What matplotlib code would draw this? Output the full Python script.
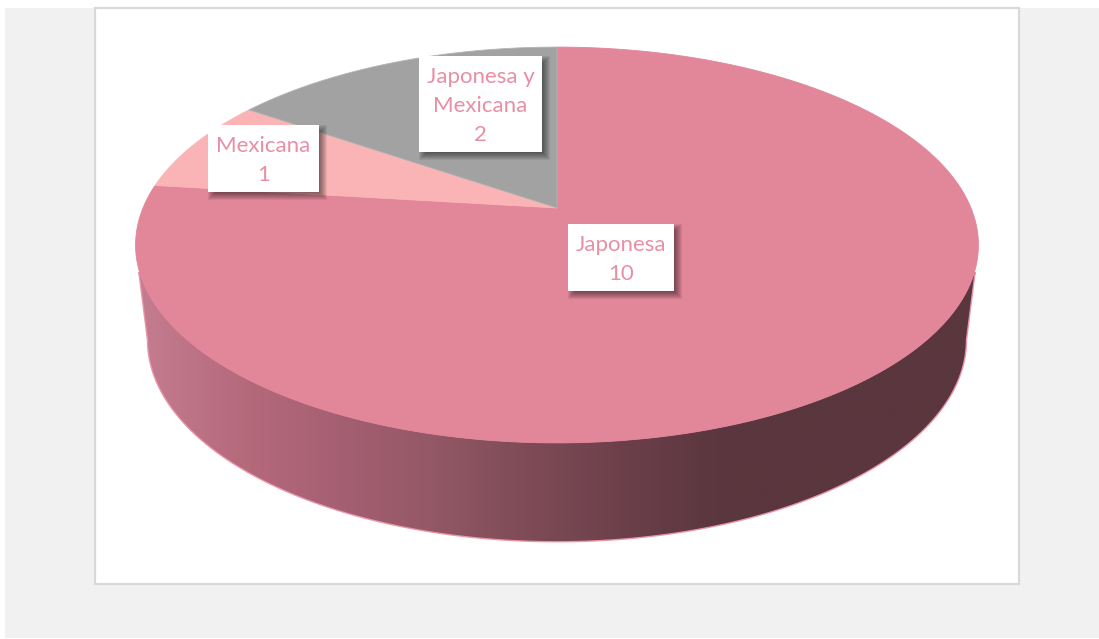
import numpy as np
import matplotlib
matplotlib.use('Agg')
import matplotlib.pyplot as plt
from matplotlib.colors import LinearSegmentedColormap
from matplotlib.patches import Polygon, Rectangle

plt.rcParams['font.family'] = ['Lato', 'DejaVu Sans']

categories = ['Japonesa', 'Mexicana', 'Japonesa y\nMexicana']
values = [10, 1, 2]
colors = ['#e2869a', '#fbb4b5', '#a2a2a2']
edges = ['#e2869a', '#fbb4b5', '#b4b4b4']
label_boxes = [(568, 224, 106, 67), (208, 125, 111, 67), (419, 56, 123, 96)]

# perspective of the disc, in pixels
cx, cy = 557, 208
A, C, k = 414.0, 191.0, 0.1869
low_sx, low_sy, cy_low = 0.970, 1.016, 302.4

wall_x = [135, 250, 340, 430, 520, 640, 725, 979]
wall_rgb = ['#c57d91', '#b4697a', '#a55f73', '#945866', '#7f4c58', '#693e48', '#5a363e', '#5a363e']


def project(phi, sx=1.0, sy=1.0, y0=cy):
    u, v = np.cos(phi), np.sin(phi)
    w = 1 + k * v
    return cx + sx * A * u / w, y0 - sy * C * v / w


fig = plt.figure(figsize=(10.99, 6.39), dpi=100, facecolor='white')
ax = fig.add_axes([0, 0, 1, 1])
ax.axis('off')

ax.add_patch(Rectangle((5, 8), 1094, 630, fc='#f1f1f1', ec='none', zorder=0))
ax.add_patch(Rectangle((95, 8), 923.5, 575.5, fc='white', ec='#d9d9d9', lw=1.6, zorder=1))

# side wall: lower arc between the widest points, closed through the top disc
p_low = np.linspace(np.pi + np.arcsin(k), 2 * np.pi - np.arcsin(k), 300)
xl, yl = project(p_low, low_sx, low_sy, cy_low)
p_top = np.linspace(2 * np.pi - np.arcsin(0.3155), np.pi + np.arcsin(0.3155), 300)
xt, yt = project(p_top)
outline = np.column_stack([np.r_[xl, xt], np.r_[yl, yt]])
ax.add_patch(Polygon(outline, closed=True, fc='none', ec='#ea94a9', lw=2.0, zorder=2))

stops = [(x - wall_x[0]) / (wall_x[-1] - wall_x[0]) for x in wall_x]
cmap = LinearSegmentedColormap.from_list('wall', list(zip(stops, wall_rgb)))
grad = ax.imshow(np.linspace(0, 1, 512)[None, :], cmap=cmap, aspect='auto',
                 extent=(wall_x[0], wall_x[-1], 545, 240), zorder=2.5)
grad.set_clip_path(Polygon(outline, closed=True, transform=ax.transData))

# top of the disc, clockwise from twelve o'clock
total = sum(values)
start = 0.0
for val, col, edge in zip(values, colors, edges):
    sweep = 2 * np.pi * val / total
    phi = np.pi / 2 - np.linspace(start, start + sweep, 400)
    x, y = project(phi)
    ax.add_patch(Polygon(np.column_stack([np.r_[cx, x], np.r_[cy, y]]), closed=True,
                         fc=col, ec=edge, lw=0.6, zorder=3))
    start += sweep

# data labels with soft drop shadow
for cat, val, (bx, by, bw, bh) in zip(categories, values, label_boxes):
    for grow in np.arange(4, -4, -1):
        ax.add_patch(Rectangle((bx + 4 - grow, by + 4 - grow), bw + 2 * grow, bh + 2 * grow,
                               fc='black', ec='none', alpha=0.07, zorder=4))
    ax.add_patch(Rectangle((bx, by), bw, bh, fc='white', ec='none', zorder=5))
    ax.text(bx + bw / 2, by + bh / 2 + 2, f'{cat}\n{val}', ha='center', va='center',
            fontsize=16, color='#e88fa5', linespacing=1.56, zorder=6)

ax.set_xlim(0, 1099)
ax.set_ylim(639, 0)
fig.savefig('out.png', dpi=100)
